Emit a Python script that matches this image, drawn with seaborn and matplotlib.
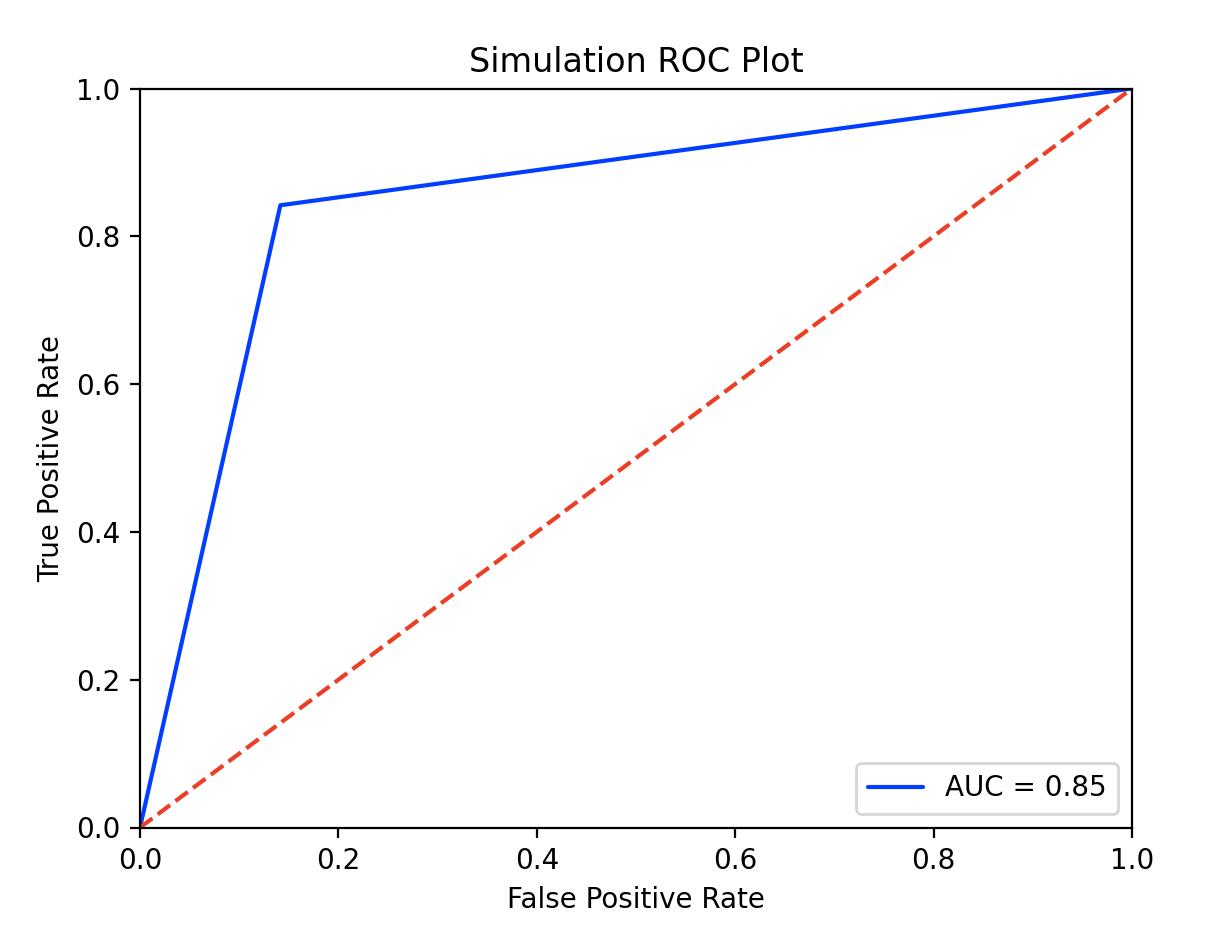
import matplotlib
matplotlib.use("Agg")
import matplotlib.pyplot as plt
import seaborn as sns
import pandas as pd

fpr = [0.0, 0.1415, 1.0]
tpr = [0.0, 0.842, 1.0]
diag = [0.0, 1.0]
auc_label = "AUC = 0.85"

sns.set_style("ticks")
plt.rcParams['font.family'] = ['DejaVu Sans']
plt.rcParams['text.color'] = 'black'
plt.rcParams['axes.labelcolor'] = 'black'
plt.rcParams['xtick.color'] = 'black'
plt.rcParams['ytick.color'] = 'black'

fig = plt.figure(figsize=(6.05, 4.63), dpi=200)
ax = fig.add_axes([140/1210, 98.5/926, 992/1210, 739/926])

df = pd.DataFrame({"fpr": fpr, "tpr": tpr})
sns.lineplot(data=df, x="fpr", y="tpr", ax=ax, color="#023eff", label=auc_label,
             estimator=None, sort=False, linewidth=1.5)
ax.plot(diag, diag, linestyle="--", color="#ec3d25", linewidth=1.5)

ax.set_xlim(0, 1)
ax.set_ylim(0, 1)
ax.set_title("Simulation ROC Plot", color="black")
ax.set_xlabel("False Positive Rate", color="black")
ax.set_ylabel("True Positive Rate", color="black")
ax.legend(loc="lower right")
for s in ax.spines.values():
    s.set_visible(True)
    s.set_color("black")
    s.set_linewidth(0.8)
ax.tick_params(colors="black", labelcolor="black", direction="out", length=3.5, width=0.8)

fig.savefig("out.png", dpi=200)
